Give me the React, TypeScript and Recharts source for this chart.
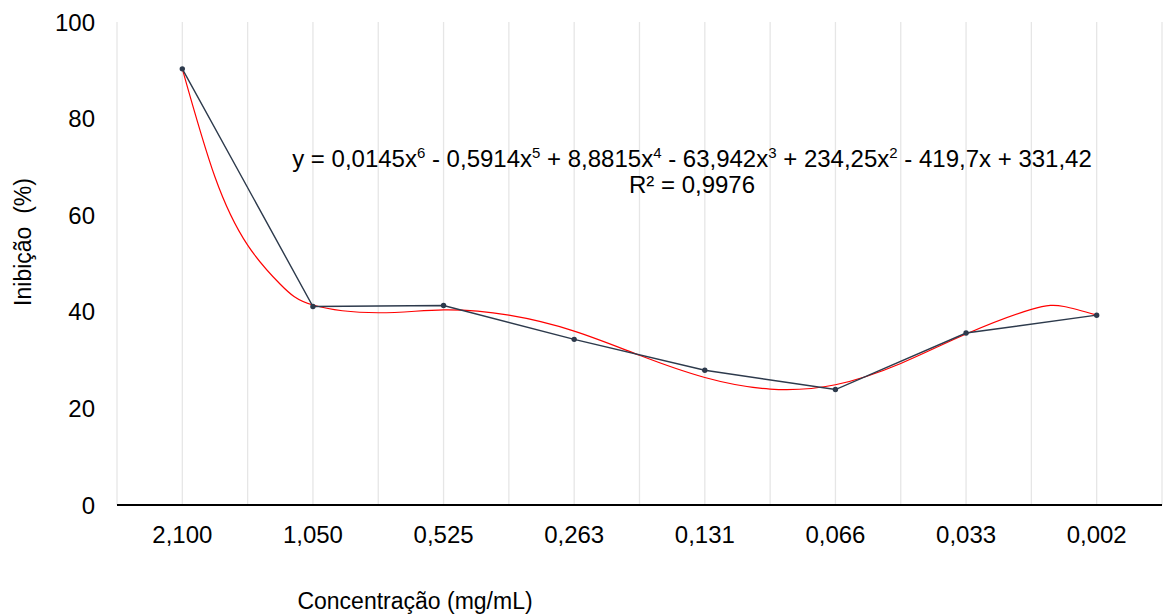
import { LineChart, Line, XAxis, YAxis, CartesianGrid } from 'recharts';

// concentrations (mg/mL), in the order they appear on the axis
const categories = ['2,100', '1,050', '0,525', '0,263', '0,131', '0,066', '0,033', '0,002'];
const inhibition = [90.3, 41.1, 41.3, 34.3, 27.9, 23.9, 35.6, 39.3];

// poly (order 6) trendline
const trendPos = [1, 1.25, 1.5, 1.75, 2, 2.5, 3, 3.5, 4, 4.5, 5, 5.5, 6, 6.5, 7, 7.5, 7.75, 8];
const trendVal = [90.3, 67.9, 53.8, 45.7, 41.4, 39.8, 40.4, 39.3, 36.0, 31.0, 26.4, 24.0, 24.9, 29.3, 35.4, 40.5, 41.1, 39.3];

const yTicks = [0, 20, 40, 60, 80, 100];
const xTicks = [0.5, 1, 1.5, 2, 2.5, 3, 3.5, 4, 4.5, 5, 5.5, 6, 6.5, 7, 7.5, 8, 8.5];

const points = categories.map((c, i) => ({ x: i + 1, label: c, y: inhibition[i] }));
const trend = trendPos.map((x, i) => ({ x, t: trendVal[i] }));

const FONT = '"Liberation Sans", Arial, sans-serif';
const W = 1163;
const H = 615;

const sup = { fontSize: 15, lineHeight: 0 };

export default function App() {
  const fmt = (v: number) => (Number.isInteger(v) && v >= 1 && v <= 8 ? categories[v - 1] : '');

  return (
    <div style={{ position: 'absolute', left: 0, top: 0, width: W, height: H, background: '#fff', fontFamily: FONT }}>
      <LineChart width={W} height={H} margin={{ top: 22, right: 1, bottom: 0, left: 0 }}>
        <CartesianGrid horizontal={false} stroke="#e6e6e6" strokeWidth={1.3} />
        <XAxis
          dataKey="x"
          type="number"
          domain={[0.5, 8.5]}
          ticks={xTicks}
          interval={0}
          tickFormatter={fmt}
          height={110}
          tickLine={false}
          tickSize={0}
          tickMargin={21}
          axisLine={{ stroke: '#000', strokeWidth: 2 }}
          tick={{ fill: '#000', fontSize: 24, fontFamily: FONT }}
          allowDuplicatedCategory={false}
        />
        <YAxis
          type="number"
          domain={[0, 100]}
          ticks={yTicks}
          width={117}
          axisLine={false}
          tickLine={false}
          tickSize={0}
          tickMargin={22}
          tick={{ fill: '#000', fontSize: 24, fontFamily: FONT }}
        />
        <Line
          data={trend}
          dataKey="t"
          type="natural"
          stroke="#ff0000"
          strokeWidth={1.2}
          dot={false}
          isAnimationActive={false}
        />
        <Line
          data={points}
          dataKey="y"
          type="linear"
          stroke="#2d3a4c"
          strokeWidth={1.4}
          dot={{ r: 2.7, fill: '#2d3a4c', stroke: '#2d3a4c', strokeWidth: 0 }}
          isAnimationActive={false}
        />
      </LineChart>

      <div
        style={{
          position: 'absolute',
          left: 23,
          top: 242,
          transform: 'translate(-50%, -50%) rotate(-90deg)',
          fontSize: 23,
          lineHeight: '23px',
          whiteSpace: 'pre',
          color: '#000',
        }}
      >
        Inibição  (%)
      </div>

      <div
        style={{
          position: 'absolute',
          left: 415,
          top: 601,
          transform: 'translate(-50%, -50%)',
          fontSize: 23,
          lineHeight: '23px',
          whiteSpace: 'nowrap',
          color: '#000',
        }}
      >
        Concentração (mg/mL)
      </div>

      <div
        style={{
          position: 'absolute',
          left: 692,
          top: 159,
          transform: 'translate(-50%, -50%)',
          fontSize: 24,
          lineHeight: '24px',
          whiteSpace: 'nowrap',
          color: '#000',
        }}
      >
        y = 0,0145x<sup style={sup}>6</sup> - 0,5914x<sup style={sup}>5</sup> + 8,8815x<sup style={sup}>4</sup> - 63,942x
        <sup style={sup}>3</sup> + 234,25x<sup style={sup}>2</sup> - 419,7x + 331,42
      </div>
      <div
        style={{
          position: 'absolute',
          left: 692,
          top: 185,
          transform: 'translate(-50%, -50%)',
          fontSize: 24,
          lineHeight: '24px',
          whiteSpace: 'nowrap',
          color: '#000',
        }}
      >
        R² = 0,9976
      </div>
    </div>
  );
}
